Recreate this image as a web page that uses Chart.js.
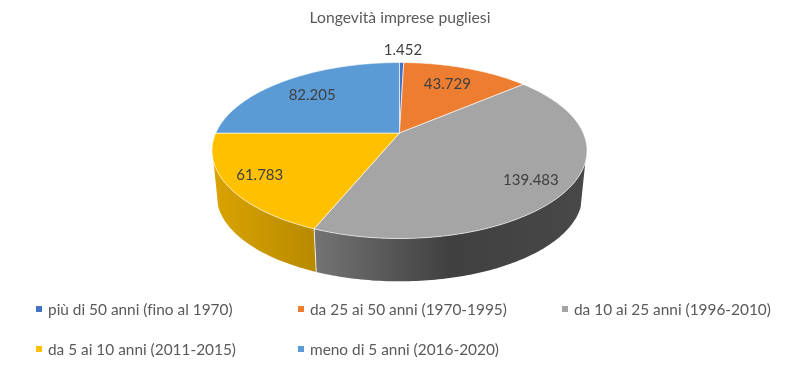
<!DOCTYPE html>
<html lang="it">
<head>
<meta charset="utf-8">
<title>Longevità imprese pugliesi</title>
<script src="https://cdn.jsdelivr.net/npm/chart.js@4"></script>
<style>
    html, body { margin: 0; padding: 0; background: #fff; }
    #wrap { position: relative; width: 800px; height: 371px; overflow: hidden; }
    #chart-pie { position: absolute; left: 0; top: 0; }
    .lg { position: absolute; font: 15.4px Lato, sans-serif; font-variant-ligatures: none; color: #595959; white-space: nowrap; line-height: 20px; }
    .lg i { position: absolute; left: -12px; top: 7px; width: 6px; height: 6px; }
</style>
</head>
<body>
<div id="wrap">
    <canvas id="chart-pie" width="800" height="371"></canvas>
</div>
<script>
const chartTitle = 'Longevità imprese pugliesi';
const categories = [
    'più di 50 anni (fino al 1970)',
    'da 25 ai 50 anni (1970-1995)',
    'da 10 ai 25 anni (1996-2010)',
    'da 5 ai 10 anni (2011-2015)',
    'meno di 5 anni (2016-2020)',
];
const values = [1452, 43729, 139483, 61783, 82205];
const valueLabels = ['1.452', '43.729', '139.483', '61.783', '82.205'];
const colors = ['#4472c4', '#ed7d31', '#a5a5a5', '#ffc000', '#5b9bd5'];

// wall colours of the slices, left to right
const sideStops = {
    2: [[0, '#737373'], [0.5, '#404040'], [1, '#484848']],
    3: [[0, '#d9a300'], [1, '#b88a00']],
};
// where each value label sits: fraction of radius along the slice middle, then a nudge in px
const labelSpots = [[1.22, 1], [0.726, -3], [0.855, -10], [0.81, -4], [0.7, -4.5]];
const legendSpots = [[48, 299], [310, 299], [574, 299], [48, 339], [310, 339]];

// perspective of the disc: apex sits above the middle of the ellipse
const P = { cx: 399.5, cy: 133, c: 183.75, a: 84.5, k: -0.199, depth: 45.5, shrink: 0.975 };
// the wall outline leaves the rim at these angles (fractions of PI from the top)
const wallFrom = 0.605;
const wallTo = 1.397;

function project(theta, r, lower) {
    const u = Math.sin(theta) * r;
    const v = -Math.cos(theta) * r;
    const w = 1 + P.k * v;
    const s = lower ? P.shrink : 1;
    return {
        x: P.cx + (P.c * u / w) * s,
        y: P.cy + (P.a * v / w) * s + (lower ? P.depth : 0),
    };
}

function rimPath(ctx, from, to, lower) {
    const n = Math.max(2, Math.ceil(Math.abs(to - from) * 60));
    for (let i = 0; i <= n; i++) {
        const p = project(from + (to - from) * i / n, 1, lower);
        ctx.lineTo(p.x, p.y);
    }
}

const pie3d = {
    id: 'pie3d',
    beforeDatasetsDraw(chart) {
        const ctx = chart.ctx;
        const arcs = chart.getDatasetMeta(0).data.map((el, i) => ({
            i,
            from: el.startAngle + Math.PI / 2,
            to: el.endAngle + Math.PI / 2,
        }));

        // walls first, only the part of each slice facing the viewer
        arcs.forEach((s) => {
            const from = Math.max(s.from, Math.PI * wallFrom);
            const to = Math.min(s.to, Math.PI * wallTo);
            if (to <= from || !sideStops[s.i]) return;
            const xs = [];
            for (let t = from; t <= to; t += 0.02) xs.push(project(t, 1, false).x);
            const g = ctx.createLinearGradient(Math.min(...xs), 0, Math.max(...xs), 0);
            sideStops[s.i].forEach(([o, c]) => g.addColorStop(o, c));
            ctx.beginPath();
            rimPath(ctx, from, to, false);
            rimPath(ctx, to, from, true);
            ctx.closePath();
            ctx.fillStyle = g;
            ctx.fill();
            // seam between walls
            if (s.from > Math.PI * wallFrom) {
                const a = project(s.from, 1, false);
                const b = project(s.from, 1, true);
                ctx.beginPath();
                ctx.moveTo(a.x, a.y);
                ctx.lineTo(b.x, b.y);
                ctx.strokeStyle = 'rgba(255,255,255,0.8)';
                ctx.lineWidth = 1;
                ctx.stroke();
            }
        });

        // top of the disc
        arcs.forEach((s) => {
            ctx.beginPath();
            ctx.moveTo(P.cx, P.cy);
            rimPath(ctx, s.from, s.to, false);
            ctx.closePath();
            ctx.fillStyle = colors[s.i];
            ctx.fill();
            ctx.strokeStyle = 'rgba(255,255,255,0.6)';
            ctx.lineWidth = 1;
            ctx.stroke();
        });

        // value labels
        ctx.font = '15px Lato, sans-serif';
        ctx.fillStyle = '#404040';
        ctx.textAlign = 'center';
        ctx.textBaseline = 'middle';
        arcs.forEach((s) => {
            const [r, dx] = labelSpots[s.i];
            const p = project((s.from + s.to) / 2, r, false);
            ctx.fillText(valueLabels[s.i], p.x + dx, p.y);
        });
        return false;
    },
};

new Chart(document.getElementById('chart-pie').getContext('2d'), {
    type: 'pie',
    data: {
        labels: categories,
        datasets: [{ data: values, backgroundColor: colors, borderWidth: 0 }],
    },
    options: {
        responsive: false,
        animation: false,
        plugins: {
            legend: { display: false },
            tooltip: { enabled: false },
            title: {
                display: true,
                text: chartTitle,
                color: '#595959',
                font: { family: 'Lato, sans-serif', size: 15.7, weight: 'normal' },
                padding: { top: 9, bottom: 4 },
            },
        },
    },
    plugins: [pie3d],
});

const wrap = document.getElementById('wrap');
categories.forEach((label, i) => {
    const d = document.createElement('div');
    d.className = 'lg';
    d.style.left = legendSpots[i][0] + 'px';
    d.style.top = legendSpots[i][1] + 'px';
    d.innerHTML = `<i style="background:${colors[i]}"></i>`;
    d.appendChild(document.createTextNode(label));
    wrap.appendChild(d);
});
</script>
</body>
</html>
